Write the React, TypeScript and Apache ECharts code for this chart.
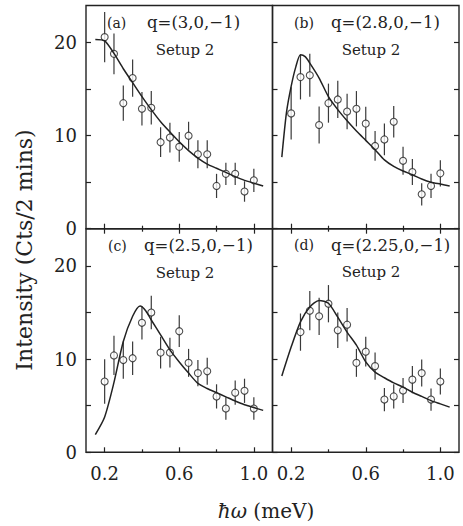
import React, { useEffect, useRef } from "react";
import * as echarts from "echarts";

// ---- data ----
const energyFull = [0.2, 0.25, 0.3, 0.35, 0.4, 0.45, 0.5, 0.55, 0.6, 0.65, 0.7, 0.75, 0.8, 0.85, 0.9, 0.95, 1.0];
const energyD = [0.25, 0.3, 0.35, 0.4, 0.45, 0.5, 0.55, 0.6, 0.65, 0.7, 0.75, 0.8, 0.85, 0.9, 0.95, 1.0];

const intensityA = [20.6, 18.8, 13.5, 16.2, 12.9, 13.0, 9.3, 9.8, 8.8, 10.0, 8.0, 8.0, 4.6, 5.9, 5.9, 4.0, 5.2];
const errorA = [2.7, 2.2, 1.9, 2.0, 1.8, 1.8, 1.6, 1.6, 1.6, 1.5, 1.5, 1.5, 1.3, 1.2, 1.2, 1.1, 1.25];
const intensityB = [12.4, 16.3, 16.5, 11.15, 13.5, 13.9, 12.6, 12.9, 11.3, 8.9, 9.6, 11.5, 7.3, 6.1, 3.7, 4.6, 5.95];
const errorB = [2.8, 2.4, 2.3, 2.0, 2.1, 2.0, 1.9, 1.9, 1.8, 1.6, 1.7, 1.7, 1.5, 1.4, 1.2, 1.3, 1.4];
const intensityC = [7.6, 10.4, 9.9, 10.1, 13.9, 15.0, 10.7, 10.7, 13.0, 9.6, 8.5, 8.7, 6.0, 4.7, 6.4, 6.6, 4.7];
const errorC = [2.4, 2.1, 2.0, 1.8, 1.8, 1.8, 1.7, 1.6, 1.7, 1.5, 1.4, 1.45, 1.3, 1.2, 1.3, 1.3, 1.2];
const intensityD = [12.9, 15.2, 14.6, 15.95, 13.1, 13.7, 9.6, 10.8, 9.25, 5.66, 6.0, 6.63, 7.8, 8.5, 5.66, 7.6];
const errorD = [2.0, 2.1, 2.0, 2.0, 1.9, 1.8, 1.5, 1.6, 1.45, 1.25, 1.3, 1.35, 1.45, 1.45, 1.2, 1.4];

const fitXA = [0.15, 0.2, 0.25, 0.3, 0.35, 0.4, 0.45, 0.5, 0.55, 0.6, 0.65, 0.7, 0.75, 0.8, 0.85, 0.9, 0.95, 1.0, 1.05];
const fitYA = [20.35, 20.2, 18.85, 17.2, 15.7, 14.2, 12.8, 11.5, 10.4, 9.35, 8.4, 7.6, 6.95, 6.5, 6.05, 5.6, 5.2, 4.9, 4.6];
const fitXB = [0.15, 0.175, 0.2, 0.225, 0.25, 0.275, 0.3, 0.35, 0.4, 0.45, 0.5, 0.55, 0.6, 0.65, 0.7, 0.75, 0.8, 0.85, 0.9, 0.95, 1.0, 1.05];
const fitYB = [7.7, 12.5, 15.3, 17.4, 18.7, 18.5, 17.8, 16.2, 14.2, 12.8, 11.6, 10.5, 9.5, 8.5, 7.4, 6.7, 6.2, 5.8, 5.35, 5.0, 4.8, 4.6];
const fitXC = [0.15, 0.2, 0.25, 0.3, 0.35, 0.39, 0.42, 0.45, 0.5, 0.55, 0.6, 0.65, 0.7, 0.75, 0.8, 0.85, 0.9, 0.95, 1.0, 1.05];
const fitYC = [1.9, 3.8, 7.5, 11.9, 14.6, 15.7, 15.2, 14.2, 12.6, 11.0, 9.7, 8.5, 7.4, 6.85, 6.4, 5.95, 5.5, 5.1, 4.8, 4.5];
const fitXD = [0.15, 0.2, 0.25, 0.3, 0.35, 0.4, 0.45, 0.5, 0.55, 0.6, 0.65, 0.7, 0.75, 0.8, 0.85, 0.9, 0.95, 1.0, 1.05];
const fitYD = [8.2, 11.3, 14.0, 15.6, 16.3, 16.0, 14.5, 12.9, 11.5, 9.7, 8.6, 8.0, 7.45, 7.0, 6.45, 6.0, 5.55, 5.2, 4.85];

const panelTags = ["(a)", "(b)", "(c)", "(d)"];
const panelQ = ["q=(3,0,\u22121)", "q=(2.8,0,\u22121)", "q=(2.5,0,\u22121)", "q=(2.25,0,\u22121)"];
const setupLabel = "Setup 2";

const xMajorTicks = [0.2, 0.6, 1.0];
const xMinorTicks = [0.4, 0.8];
const yTicks = [0, 5, 10, 15, 20];
const yLabels = [0, 10, 20];

const FONT = "DejaVu Serif";
const INK = "#222";

export default function App() {
  const ref = useRef<HTMLDivElement>(null);
  useEffect(() => {
    if (!ref.current) return;
    const chart = echarts.init(ref.current, undefined, { renderer: "svg" });

    const panels = [
      { x: energyFull, y: intensityA, e: errorA, fx: fitXA, fy: fitYA, left: 86, top: 5.5, w: 186.5, h: 223.2, col: 0, row: 0 },
      { x: energyFull, y: intensityB, e: errorB, fx: fitXB, fy: fitYB, left: 272.5, top: 5.5, w: 186.5, h: 223.2, col: 1, row: 0 },
      { x: energyFull, y: intensityC, e: errorC, fx: fitXC, fy: fitYC, left: 86, top: 228.7, w: 186.5, h: 223.6, col: 0, row: 1 },
      { x: energyD, y: intensityD, e: errorD, fx: fitXD, fy: fitYD, left: 272.5, top: 228.7, w: 186.5, h: 223.6, col: 1, row: 1 },
    ];

    const grid: any[] = [];
    const xAxis: any[] = [];
    const yAxis: any[] = [];
    const series: any[] = [];

    panels.forEach((p, i) => {
      grid.push({
        left: p.left, top: p.top, width: p.w, height: p.h,
        show: true, borderColor: INK, borderWidth: 1.4, backgroundColor: "transparent",
      });
      const baseX = {
        gridIndex: i, type: "value", min: 0.1, max: 1.1,
        axisLine: { show: false }, splitLine: { show: false },
      };
      const xi = xAxis.length;
      xAxis.push({
        ...baseX, position: "bottom",
        axisTick: { show: true, inside: true, length: 5, customValues: xMajorTicks, lineStyle: { color: INK, width: 1.2 } },
        axisLabel: {
          show: p.row === 1, customValues: xMajorTicks, margin: 12,
          fontFamily: FONT, fontSize: 18, color: INK,
          formatter: (v: number) => v.toFixed(1),
        },
      });
      xAxis.push({
        ...baseX, position: "bottom",
        axisTick: { show: true, inside: true, length: 3, customValues: xMinorTicks, lineStyle: { color: INK, width: 1.2 } },
        axisLabel: { show: false, customValues: xMinorTicks },
      });
      if (p.row === 1) {
        xAxis.push({
          ...baseX, position: "top",
          axisTick: { show: true, inside: true, length: 5, customValues: xMajorTicks, lineStyle: { color: INK, width: 1.2 } },
          axisLabel: { show: false, customValues: xMajorTicks },
        });
        xAxis.push({
          ...baseX, position: "top",
          axisTick: { show: true, inside: true, length: 3, customValues: xMinorTicks, lineStyle: { color: INK, width: 1.2 } },
          axisLabel: { show: false, customValues: xMinorTicks },
        });
      }
      const yi = yAxis.length;
      yAxis.push({
        gridIndex: i, type: "value", min: 0, max: 24, position: "left",
        axisLine: { show: false }, splitLine: { show: false },
        axisTick: { show: true, inside: true, length: 5, customValues: yTicks, lineStyle: { color: INK, width: 1.2 } },
        axisLabel: {
          show: p.col === 0, customValues: yLabels, margin: 9,
          fontFamily: FONT, fontSize: 18, color: INK,
        },
      });
      if (p.col === 1) {
        yAxis.push({
          gridIndex: i, type: "value", min: 0, max: 24, position: "right",
          axisLine: { show: false }, splitLine: { show: false },
          axisTick: { show: true, inside: true, length: 5, customValues: yTicks, lineStyle: { color: INK, width: 1.2 } },
          axisLabel: { show: false, customValues: yLabels },
        });
      }

      const errData = p.x.map((xv, k) => [xv, p.y[k] - p.e[k], p.y[k] + p.e[k]]);
      series.push({
        type: "custom", xAxisIndex: xi, yAxisIndex: yi, z: 2,
        data: errData,
        renderItem: (_params: any, api: any) => {
          const a = api.coord([api.value(0), api.value(1)]);
          const b = api.coord([api.value(0), api.value(2)]);
          return {
            type: "line",
            shape: { x1: a[0], y1: a[1], x2: b[0], y2: b[1] },
            style: { stroke: "#3a3a3a", lineWidth: 1.2 },
          };
        },
      });
      series.push({
        type: "scatter", xAxisIndex: xi, yAxisIndex: yi, z: 3,
        symbol: "circle", symbolSize: 7,
        itemStyle: { color: "#fff", borderColor: INK, borderWidth: 1.1 },
        data: p.x.map((xv, k) => [xv, p.y[k]]),
      });
      series.push({
        type: "line", xAxisIndex: xi, yAxisIndex: yi, z: 4,
        smooth: 0.25, showSymbol: false, symbol: "none",
        lineStyle: { color: INK, width: 1.5 },
        data: p.fx.map((xv, k) => [xv, p.fy[k]]),
      });
    });

    const tagPos = [
      { tx: 107, qx: 147, sx: 185, ty: 22.5, sy: 50 },
      { tx: 294, qx: 331, sx: 371, ty: 22.5, sy: 50 },
      { tx: 108, qx: 144, sx: 185, ty: 245.5, sy: 272.5 },
      { tx: 294, qx: 331, sx: 371, ty: 245, sy: 272 },
    ];
    const graphic: any[] = [];
    tagPos.forEach((t, i) => {
      graphic.push({
        type: "text", x: t.tx, y: t.ty,
        style: { text: panelTags[i], fontFamily: FONT, fontSize: 14, fill: INK, textVerticalAlign: "middle", textAlign: "left" },
      });
      graphic.push({
        type: "text", x: t.qx, y: t.ty,
        style: { text: panelQ[i], fontFamily: FONT, fontSize: 16.5, fill: INK, textVerticalAlign: "middle", textAlign: "left" },
      });
      graphic.push({
        type: "text", x: t.sx, y: t.sy,
        style: { text: setupLabel, fontFamily: FONT, fontSize: 15, fill: INK, textVerticalAlign: "middle", textAlign: "center" },
      });
    });
    graphic.push({
      type: "text", x: 24, y: 250, rotation: Math.PI / 2,
      style: { text: "Intensity (Cts/2 mins)", fontFamily: FONT, fontSize: 22, fill: INK, textAlign: "center", textVerticalAlign: "middle" },
    });
    graphic.push({
      type: "text", x: 266, y: 511,
      style: {
        text: "{i|\u0127\u03c9} (meV)",
        rich: { i: { fontFamily: FONT, fontSize: 20, fontStyle: "italic", fill: INK } },
        fontFamily: FONT, fontSize: 20, fill: INK, textAlign: "center", textVerticalAlign: "middle",
      },
    });

    chart.setOption({ animation: false, grid, xAxis, yAxis, series, graphic });
    return () => chart.dispose();
  }, []);
  return <div ref={ref} style={{ position: "fixed", left: 0, top: 0, width: 463, height: 526, background: "#fff" }} />;
}
